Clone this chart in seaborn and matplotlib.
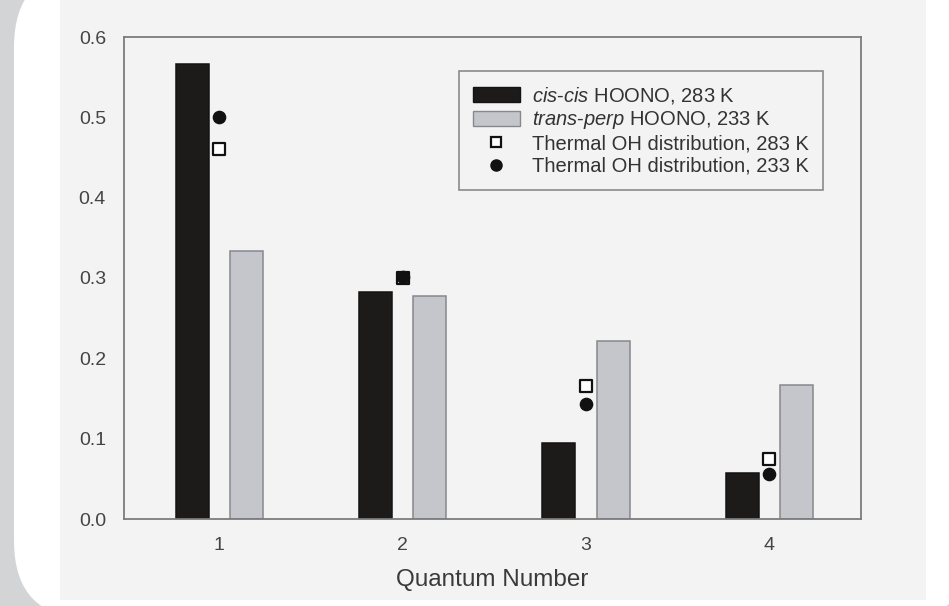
import numpy as np
import pandas as pd
import seaborn as sns
import matplotlib.pyplot as plt
from matplotlib.patches import FancyBboxPatch, Rectangle, Patch
from matplotlib.lines import Line2D
from matplotlib.transforms import IdentityTransform

# Rotational quantum number of the OH fragment
quantum = ["1", "2", "3", "4"]

# Fractional population per quantum number
cis_cis_283 = [0.566, 0.283, 0.094, 0.057]
trans_perp_233 = [0.334, 0.278, 0.222, 0.167]
thermal_283 = [0.460, 0.300, 0.165, 0.075]
thermal_233 = [0.501, 0.301, 0.143, 0.056]

series_names = [r"$\mathit{cis}$-$\mathit{cis}$ HOONO, 283 K",
                r"$\mathit{trans}$-$\mathit{perp}$ HOONO, 233 K"]
marker_names = ["Thermal OH distribution, 283 K",
                "Thermal OH distribution, 233 K"]

sns.set_theme(style="white")
plt.rcParams["font.family"] = ["Liberation Sans", "DejaVu Sans"]
plt.rcParams["mathtext.fontset"] = "custom"
plt.rcParams["mathtext.it"] = "Liberation Sans:italic"
plt.rcParams["mathtext.rm"] = "Liberation Sans"

W, H = 949, 606
fig = plt.figure(figsize=(W / 100, H / 100), dpi=100, facecolor="#d3d4d6")

# White rounded card behind the chart, then the light chart panel
card = FancyBboxPatch((14, -13), 960, 650, boxstyle="round,pad=0,rounding_size=78",
                      transform=IdentityTransform(), facecolor="white",
                      edgecolor="none", zorder=-2)
fig.patches.append(card)
panel = Rectangle((60, 6), 866, 600, transform=IdentityTransform(),
                  facecolor="#f3f3f3", edgecolor="none", zorder=-1)
fig.patches.append(panel)

left, right, top, bottom = 124, 861, 37, 519
ax = fig.add_axes([left / W, (H - bottom) / H, (right - left) / W, (bottom - top) / H])
ax.set_facecolor("#f3f3f3")

bars = pd.DataFrame({
    "quantum": quantum * 2,
    "value": cis_cis_283 + trans_perp_233,
    "series": [series_names[0]] * 4 + [series_names[1]] * 4,
})
bar_fill = ["#1d1a1a", "#c4c6cb"]
bar_edge = ["#141212", "#86888c"]
sns.barplot(data=bars, x="quantum", y="value", hue="series", order=quantum,
            hue_order=series_names, palette=bar_fill, width=0.592, gap=0.392,
            saturation=1, legend=False, ax=ax, zorder=2)
for patch in ax.patches:
    fc = patch.get_facecolor()
    is_dark = fc[0] < 0.5
    patch.set_edgecolor(bar_edge[0] if is_dark else bar_edge[1])
    patch.set_linewidth(1.1)

sns.stripplot(x=quantum, y=thermal_283, order=quantum, jitter=False, marker="s",
              color="white", edgecolor="#111111", linewidth=1.6, size=8.2,
              ax=ax, zorder=3)
sns.stripplot(x=quantum, y=thermal_233, order=quantum, jitter=False, marker="o",
              color="#111111", edgecolor="#111111", linewidth=1.0, size=8.8,
              ax=ax, zorder=4)

ax.set_xlim(-0.52, 3.5)
ax.set_ylim(0, 0.6)
ax.set_yticks([0.0, 0.1, 0.2, 0.3, 0.4, 0.5, 0.6])
ax.set_yticklabels(["0.0", "0.1", "0.2", "0.3", "0.4", "0.5", "0.6"])
ax.set_xticks(range(4))
ax.set_xticklabels(quantum)

for s in ax.spines.values():
    s.set_visible(True)
    s.set_color("#7c7c7c")
    s.set_linewidth(1.3)

ax.tick_params(axis="both", direction="out", length=5, width=1.1, color="#7c7c7c",
               labelsize=14, labelcolor="#444444")
ax.tick_params(axis="y", pad=8)
ax.tick_params(axis="x", pad=8)
ax.set_xlabel("Quantum Number", fontsize=17.5, color="#3a3a3a", labelpad=10.5)
ax.set_ylabel("")

handles = [
    Patch(facecolor=bar_fill[0], edgecolor=bar_edge[0], label=series_names[0]),
    Patch(facecolor=bar_fill[1], edgecolor=bar_edge[1], label=series_names[1]),
    Line2D([], [], linestyle="none", marker="s", markersize=7.5, markerfacecolor="white",
           markeredgecolor="#111111", markeredgewidth=1.6, label=marker_names[0]),
    Line2D([], [], linestyle="none", marker="o", markersize=8, markerfacecolor="#111111",
           markeredgecolor="#111111", label=marker_names[1]),
]
leg = ax.legend(handles=handles, loc="upper right", bbox_to_anchor=(0.9484, 0.930),
                borderaxespad=0, fontsize=14.5, frameon=True, fancybox=False,
                handlelength=2.3, handleheight=0.75, handletextpad=0.6,
                labelspacing=0.16, borderpad=0.72, labelcolor="#333333")
frame = leg.get_frame()
frame.set_facecolor("#f3f3f3")
frame.set_edgecolor("#8a8a8a")
frame.set_linewidth(1.2)
frame.set_alpha(1)

fig.savefig("out.png", dpi=100, facecolor=fig.get_facecolor())
